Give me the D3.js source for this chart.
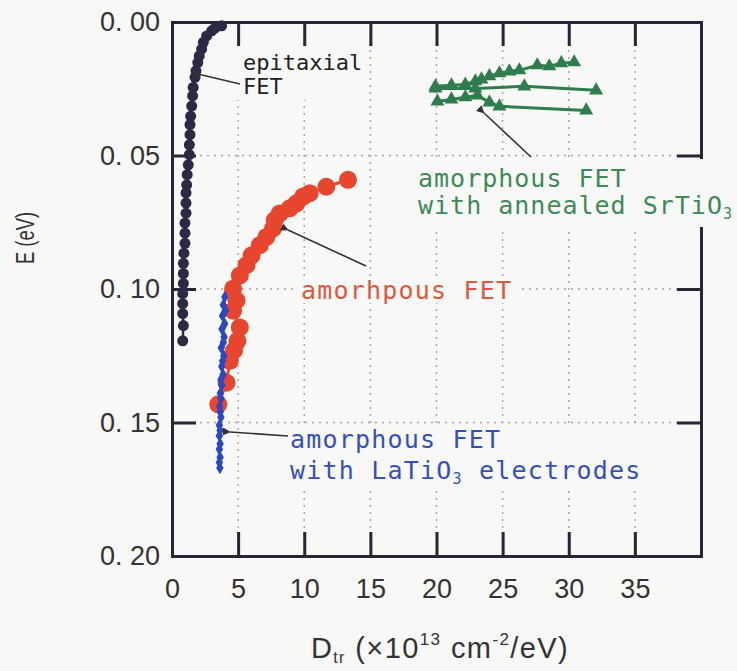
<!DOCTYPE html>
<html>
<head>
<meta charset="utf-8">
<script src="https://cdn.jsdelivr.net/npm/d3@7"></script>
<style>
  html, body { margin: 0; padding: 0; background: #f8f8f7; }
  svg { display: block; }
</style>
</head>
<body>
<svg id="chart" width="737" height="671"></svg>
<script>
// axis ticks (frame runs to 40, labels stop at 35)
const xTicks = [0, 5, 10, 15, 20, 25, 30, 35];
const yTicks = [0, 0.05, 0.10, 0.15, 0.20];
const yTickLabels = ["0. 00", "0. 05", "0. 10", "0. 15", "0. 20"];
const gridX = [5, 10, 15, 20, 25, 30, 35];
const gridY = [0.05, 0.10, 0.15];

// epitaxial FET
const epiD = [3.75, 3.25, 3.00, 2.62, 2.37, 2.24, 2.06, 1.95, 1.81, 1.74, 1.60, 1.56, 1.49, 1.41,
  1.36, 1.36, 1.31, 1.31, 1.23, 1.15, 1.11, 1.06, 1.06, 1.06, 0.98, 0.98, 0.98, 0.90, 0.86,
  0.86, 0.86, 0.81, 0.81, 0.81, 0.86, 0.81];
const epiE = [0.0014, 0.0023, 0.0033, 0.0052, 0.0076, 0.0102, 0.0127, 0.0152, 0.0183, 0.0207,
  0.0245, 0.0277, 0.0315, 0.0353, 0.0384, 0.0422, 0.0460, 0.0497, 0.0535, 0.0572, 0.0610,
  0.0640, 0.0678, 0.0716, 0.0753, 0.0791, 0.0829, 0.0866, 0.0904, 0.0942, 0.0979, 0.1017,
  0.1055, 0.1092, 0.1137, 0.1194];

// amorphous FET
const amoD = [13.31, 11.67, 10.41, 9.91, 9.41, 8.90, 8.15, 7.77, 7.64, 7.14, 6.64, 6.02, 5.63,
  5.13, 4.62, 4.88, 4.62, 5.13, 4.95, 4.69, 4.37, 4.12, 3.50];
const amoE = [0.0591, 0.0617, 0.0641, 0.0654, 0.0679, 0.0698, 0.0717, 0.0742, 0.0773, 0.0805,
  0.0836, 0.0874, 0.0911, 0.0949, 0.0999, 0.1043, 0.1081, 0.1144, 0.1194, 0.1230, 0.1269,
  0.1351, 0.1432];

// amorphous FET with LaTiO3 electrodes
const laD = [4.00, 3.88, 4.05, 3.82, 3.98, 3.78, 3.94, 3.88, 3.73, 3.92, 3.82, 3.76, 3.86, 3.70,
  3.76, 3.65, 3.70, 3.60, 3.65, 3.70, 3.58, 3.64, 3.58, 3.64, 3.58, 3.64, 3.58, 3.62];
const laE = [0.103, 0.106, 0.108, 0.110, 0.113, 0.115, 0.118, 0.120, 0.122, 0.125, 0.127, 0.129,
  0.132, 0.134, 0.136, 0.139, 0.141, 0.144, 0.146, 0.148, 0.151, 0.153, 0.155, 0.158, 0.160,
  0.163, 0.165, 0.167];

// amorphous FET with annealed SrTiO3 (three sweeps)
const srD1 = [19.92, 21.13, 22.18, 22.94, 23.40, 24.00, 24.76, 25.51, 26.26, 27.62, 28.53, 29.44, 30.41];
const srE1 = [0.0241, 0.0237, 0.0234, 0.0222, 0.0215, 0.0203, 0.0192, 0.0185, 0.0181, 0.0162,
  0.0166, 0.0154, 0.0151];
const srD2 = [19.92, 22.94, 26.64, 32.07];
const srE2 = [0.0249, 0.0249, 0.0241, 0.0256];
const srD3 = [20.07, 21.13, 22.18, 23.09, 24.00, 24.76, 31.32];
const srE3 = [0.0298, 0.0290, 0.0282, 0.0275, 0.0301, 0.0316, 0.0331];

const svg = d3.select("#chart");
const x = d3.scaleLinear().domain([0, 40]).range([172, 701]);
const y = d3.scaleLinear().domain([0, 0.2]).range([22, 556]);

const INK = "#262636";
const RED = "#e8452f";
const BLUE = "#2b48c0";
const GREEN = "#2f7d4c";
const pairs = (xs, ys) => xs.map((v, i) => [v, ys[i]]);

// dotted grid
const grid = svg.append("g").attr("stroke", "#9aa6b0").attr("stroke-width", 1.4)
  .attr("stroke-dasharray", "2,5");
grid.selectAll(".gx").data(gridX).enter().append("line")
  .attr("x1", d => x(d)).attr("x2", d => x(d)).attr("y1", y(0)).attr("y2", y(0.2));
grid.selectAll(".gy").data(gridY).enter().append("line")
  .attr("y1", d => y(d)).attr("y2", d => y(d)).attr("x1", x(0)).attr("x2", x(40));

// axes (ticks point inward)
const styleAxis = (sel) => {
  sel.selectAll("path, line").attr("stroke", INK).attr("stroke-width", 3);
  sel.selectAll("text").attr("fill", "#333").attr("font-family", "'Liberation Sans', Arial, sans-serif")
    .attr("font-size", 27);
};
svg.append("g").attr("transform", `translate(0,${y(0.2)})`)
  .call(d3.axisBottom(x).tickValues(xTicks).tickSizeInner(-24).tickSizeOuter(0).tickPadding(23))
  .call(styleAxis);
svg.append("g").attr("transform", `translate(0,${y(0)})`)
  .call(d3.axisTop(x).tickValues(xTicks).tickSizeInner(-24).tickSizeOuter(0).tickFormat(""))
  .call(styleAxis);
svg.append("g").attr("transform", `translate(${x(0)},0)`)
  .call(d3.axisLeft(y).tickValues(yTicks).tickSizeInner(-24).tickSizeOuter(0).tickPadding(12)
    .tickFormat((d, i) => yTickLabels[i]))
  .call(styleAxis);
svg.append("g").attr("transform", `translate(${x(40)},0)`)
  .call(d3.axisRight(y).tickValues(yTicks).tickSizeInner(-24).tickSizeOuter(0).tickFormat(""))
  .call(styleAxis);
svg.selectAll(".domain").attr("stroke-linecap", "square");

// axis titles
svg.append("text").attr("transform", "translate(34,238) rotate(-90)")
  .attr("text-anchor", "middle").attr("font-family", "'Liberation Sans', Arial, sans-serif")
  .attr("font-size", 25).attr("fill", "#333").attr("textLength", 52)
  .attr("lengthAdjust", "spacingAndGlyphs").text("E (eV)");

const xt = svg.append("text").attr("x", 440).attr("y", 658).attr("text-anchor", "middle")
  .attr("font-family", "'Liberation Sans', Arial, sans-serif").attr("font-size", 29)
  .attr("letter-spacing", 1.4).attr("fill", "#333");
xt.append("tspan").text("D");
xt.append("tspan").attr("font-size", 16).attr("dy", 5).text("tr");
xt.append("tspan").attr("dy", -5).text(" (×10");
xt.append("tspan").attr("font-size", 17).attr("dy", -13).text("13");
xt.append("tspan").attr("dy", 13).text(" cm");
xt.append("tspan").attr("font-size", 17).attr("dy", -13).text("-2");
xt.append("tspan").attr("dy", 13).text("/eV)");

// label backgrounds covering grid / frame
const BG = "#f8f8f7";
const bgRects = [[236, 48, 124, 52], [296, 279, 222, 24], [284, 428, 362, 60], [412, 159, 325, 68]];
svg.append("g").selectAll("rect").data(bgRects).enter().append("rect")
  .attr("x", d => d[0]).attr("y", d => d[1]).attr("width", d => d[2]).attr("height", d => d[3])
  .attr("fill", BG);

// series
const line = d3.line().x(d => x(d[0])).y(d => y(d[1]));

const drawGreen = (pts) => {
  svg.append("path").datum(pts).attr("d", line).attr("fill", "none")
    .attr("stroke", GREEN).attr("stroke-width", 3);
  svg.append("g").selectAll("path").data(pts).enter().append("path")
    .attr("d", d3.symbol(d3.symbolTriangle, 85))
    .attr("transform", d => `translate(${x(d[0])},${y(d[1])})`).attr("fill", GREEN);
};
drawGreen(pairs(srD1, srE1));
drawGreen(pairs(srD2, srE2));
drawGreen(pairs(srD3, srE3));

const epi = pairs(epiD, epiE);
svg.append("path").datum(epi).attr("d", line).attr("fill", "none")
  .attr("stroke", "#2a2a44").attr("stroke-width", 2.5);
svg.append("g").selectAll("circle").data(epi).enter().append("circle")
  .attr("cx", d => x(d[0])).attr("cy", d => y(d[1])).attr("r", 5.5).attr("fill", "#2a2a44");

const amo = pairs(amoD, amoE);
svg.append("path").datum(amo).attr("d", line).attr("fill", "none")
  .attr("stroke", RED).attr("stroke-width", 3);
svg.append("g").selectAll("circle").data(amo).enter().append("circle")
  .attr("cx", d => x(d[0])).attr("cy", d => y(d[1])).attr("r", 9).attr("fill", RED);

const la = pairs(laD, laE);
svg.append("path").datum(la).attr("d", line).attr("fill", "none")
  .attr("stroke", BLUE).attr("stroke-width", 2);
svg.append("g").selectAll("path").data(la).enter().append("path")
  .attr("d", d3.symbol(d3.symbolDiamond, 48))
  .attr("transform", d => `translate(${x(d[0])},${y(d[1])})`).attr("fill", BLUE);

// leaders with small arrow heads at the data end
svg.append("defs").append("marker").attr("id", "arr").attr("viewBox", "0 0 10 10")
  .attr("refX", 1).attr("refY", 5).attr("markerWidth", 5).attr("markerHeight", 5)
  .attr("orient", "auto-start-reverse")
  .append("path").attr("d", "M10,0 L0,5 L10,10 z").attr("fill", "#333");
const leaders = [[202, 75, 240, 84], [288, 230, 366, 266], [230, 432, 288, 436], [484, 113, 531, 157]];
svg.append("g").selectAll("line").data(leaders).enter().append("line")
  .attr("x1", d => d[0]).attr("y1", d => d[1]).attr("x2", d => d[2]).attr("y2", d => d[3])
  .attr("stroke", "#333").attr("stroke-width", 1.6).attr("marker-start", "url(#arr)");

// annotation text
const MONO = "'DejaVu Sans Mono', 'Liberation Mono', monospace";
const note = (tx, ty, color, size, spacing, parts) => {
  const t = svg.append("text").attr("x", tx).attr("y", ty).attr("fill", color)
    .attr("font-family", MONO).attr("font-size", size).attr("letter-spacing", spacing);
  let shifted = false;
  parts.forEach(p => {
    if (typeof p === "object") {
      t.append("tspan").attr("font-size", size * 0.6).attr("dy", 5).text(p.sub);
      shifted = true;
    } else {
      const s = t.append("tspan").text(p);
      if (shifted) { s.attr("dy", -5); shifted = false; }
    }
  });
  return t;
};
note(243, 70, "#222", 22, 0, ["epitaxial"]);
note(243, 94, "#222", 22, 0, ["FET"]);
note(301, 299, "#e0573d", 25, 1.2, ["amorhpous FET"]);
note(290, 448, "#3550bd", 25, 1.2, ["amorphous FET"]);
note(290, 479, "#3550bd", 25, 1.2, ["with LaTiO", {sub: "3"}, " electrodes"]);
note(418, 187, "#3d8a58", 25, 1.0, ["amorphous FET"]);
note(418, 214, "#3d8a58", 25, 1.0, ["with annealed SrTiO", {sub: "3"}]);
</script>
</body>
</html>
